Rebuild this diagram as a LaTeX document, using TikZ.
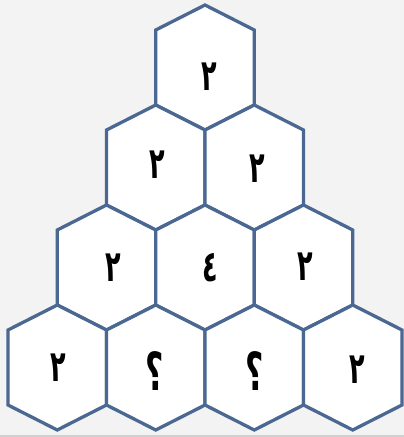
\documentclass[tikz,border=0pt]{standalone}
\usepackage{fontspec}
\usepackage{graphicx}
\newfontfamily\arabicfont[Script=Arabic]{DejaVu Sans}
\TeXXeTstate=1
\definecolor{hexblue}{HTML}{4A6891}
\definecolor{bggray}{HTML}{F3F3F3}
\definecolor{edgegray}{HTML}{D0D0D0}
\begin{document}
\begin{tikzpicture}[x=1pt,y=-1pt,
  hexcell/.style={draw=hexblue, fill=white, line width=3.3pt},
  digit/.style={font=\arabicfont\bfseries\fontsize{30}{30}\selectfont, text=black, inner sep=0pt}]
\fill[bggray] (0,0) rectangle (404,437);
\fill[edgegray] (0,435) rectangle (404,437);
\useasboundingbox (0,0) rectangle (404,437);
\foreach \cx/\cy/\nm/\txt/\dx/\dy/\sx/\sy in {
  205/67.5/h11/٢/4/9/0.85/1.45,
  155.75/167.5/h21/٢/2/-3/0.85/1.45, 254.25/167.5/h22/٢/3/1/0.85/1.45,
  106.5/267.5/h31/٢/7/0/0.85/1.45, 205/267.5/h32/٤/5/0/0.85/1.45, 303.5/267.5/h33/٢/2/-1/0.85/1.45,
  57.25/367.5/h41/٢/1/0/0.85/1.45, 155.75/367.5/h42/؟/-1/4/1.05/1.75, 254.25/367.5/h43/؟/0/4/1.05/1.75, 352.75/367.5/h44/٢/5/2/0.85/1.45} {
  \draw[hexcell] (\cx,\cy) ++(0,-62.5) -- ++(49.25,25) -- ++(0,75) -- ++(-49.25,25) -- ++(-49.25,-25) -- ++(0,-75) -- cycle;
  \node[digit] (\nm) at (\cx+\dx,\cy+\dy) {\scalebox{\sx}[\sy]{\beginR\txt\endR}};
}
\end{tikzpicture}
\end{document}
